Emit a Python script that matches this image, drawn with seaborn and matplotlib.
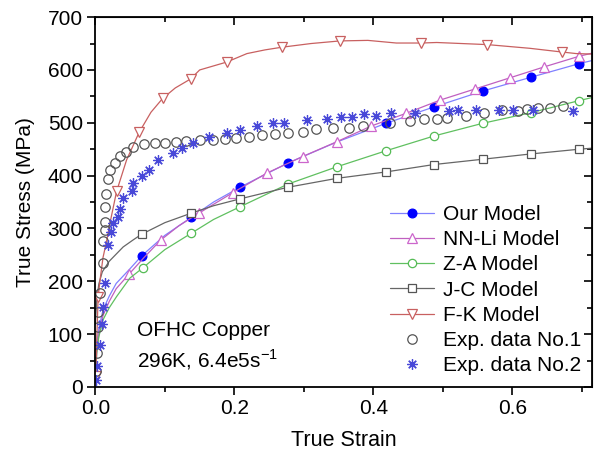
import numpy as np
import pandas as pd
import seaborn as sns
import matplotlib.pyplot as plt
from matplotlib.ticker import MultipleLocator

# model curves (line vertices) and the indices where markers sit
our_x = [0.0, 0.002, 0.005, 0.011, 0.02, 0.03, 0.05, 0.0665, 0.1, 0.138, 0.17, 0.208, 0.277, 0.348, 0.418, 0.487, 0.557, 0.626, 0.696, 0.715]
our_y = [20, 80, 110, 146, 172, 196, 224, 248, 287, 321, 350, 378, 424, 464, 499, 530, 560, 586, 612, 618]
our_mk = [7, 9, 11, 12, 14, 15, 16, 17, 18]

nn_x = [0.0, 0.002, 0.005, 0.011, 0.02, 0.03, 0.0487, 0.07, 0.094, 0.12, 0.149, 0.198, 0.247, 0.298, 0.347, 0.397, 0.447, 0.496, 0.546, 0.596, 0.646, 0.696, 0.715]
nn_y = [10, 65, 100, 135, 162, 186, 214, 245, 278, 305, 329, 368, 405, 436, 464, 494, 518, 543, 564, 585, 606, 626, 632]
nn_mk = [6, 8, 10, 11, 12, 13, 14, 15, 16, 17, 18, 19, 20, 21]

za_x = [0.0, 0.002, 0.005, 0.011, 0.02, 0.0305, 0.0496, 0.0688, 0.1, 0.138, 0.17, 0.208, 0.277, 0.348, 0.418, 0.487, 0.557, 0.626, 0.696, 0.715]
za_y = [15, 65, 95, 127, 150, 171, 206, 226, 260, 291, 317, 341, 384, 417, 447, 475, 499, 519, 542, 548]
za_mk = [7, 9, 11, 12, 13, 14, 15, 16, 17, 18]

jc_x = [0.0, 0.002, 0.005, 0.01, 0.02, 0.04, 0.054, 0.0665, 0.1, 0.138, 0.17, 0.208, 0.277, 0.348, 0.418, 0.487, 0.557, 0.626, 0.696, 0.715]
jc_y = [120, 165, 195, 218, 238, 265, 278, 289, 311, 329, 343, 356, 378, 395, 407, 421, 431, 441, 450, 452]
jc_mk = [7, 9, 11, 12, 13, 14, 15, 16, 17, 18]

fk_x = [0.0007, 0.002, 0.004, 0.0065, 0.011, 0.016, 0.021, 0.0305, 0.045, 0.063, 0.08, 0.0967, 0.115, 0.137, 0.15, 0.189, 0.218, 0.244, 0.268, 0.31, 0.352, 0.392, 0.433, 0.469, 0.491, 0.564, 0.625, 0.671, 0.692, 0.717]
fk_y = [20, 90, 170, 200, 245, 275, 310, 370, 430, 482, 520, 546, 566, 583, 600, 615, 631, 638, 643, 650, 655, 656, 651, 651, 652, 648, 641, 634, 631, 630]
fk_mk = [0, 2, 7, 9, 11, 13, 15, 18, 20, 23, 25, 27]

# experimental data
e1_x = [0.0015, 0.0026, 0.004, 0.004, 0.0065, 0.0104, 0.0104, 0.0137, 0.0137, 0.0137, 0.016, 0.018, 0.0215, 0.028, 0.035, 0.044, 0.0535,
        0.070, 0.0856, 0.100, 0.116, 0.130, 0.151, 0.169, 0.186, 0.203, 0.221, 0.240, 0.258, 0.277, 0.298, 0.318, 0.342, 0.365,
        0.385, 0.424, 0.452, 0.473, 0.491, 0.506, 0.533, 0.559, 0.585, 0.608, 0.621, 0.636, 0.654, 0.672]
e1_y = [30, 65, 113, 142, 177, 234, 276, 297, 313, 340, 366, 393, 410, 424, 437, 445, 455,
        460, 461, 461, 464, 465, 467, 467, 470, 472, 474, 477, 478, 481, 483, 489, 490, 490,
        494, 499, 504, 507, 507, 510, 513, 518, 524, 522, 526, 528, 528, 532]

e2_x = [0.0007, 0.0026, 0.0065, 0.0089, 0.0112, 0.0137, 0.018, 0.023, 0.0256, 0.0328, 0.035, 0.040, 0.052, 0.0545, 0.0665, 0.0774,
        0.090, 0.112, 0.124, 0.141, 0.164, 0.189, 0.208, 0.232, 0.256, 0.272, 0.304, 0.333, 0.353, 0.369, 0.387, 0.404, 0.425,
        0.460, 0.508, 0.522, 0.547, 0.581, 0.601, 0.630, 0.687]
e2_y = [13, 40, 79, 120, 152, 196, 269, 294, 311, 322, 336, 357, 371, 386, 399, 410,
        429, 442, 453, 462, 474, 480, 487, 494, 499, 499, 505, 508, 511, 511, 516, 513, 518,
        519, 523, 525, 525, 525, 524, 524, 522]


def main():
    sns.set_style('ticks')
    plt.rcParams['font.family'] = ['Liberation Sans', 'DejaVu Sans']
    plt.rcParams['mathtext.fontset'] = 'custom'
    plt.rcParams['mathtext.rm'] = 'Liberation Sans'
    plt.rcParams['text.color'] = 'black'
    plt.rcParams['axes.labelcolor'] = 'black'

    fig = plt.figure(figsize=(5.96, 4.51), dpi=100)
    ax = fig.add_axes([0.160, 0.142, 0.834, 0.820])

    models = [
        ('Our Model', our_x, our_y, our_mk, dict(color='#8080ff', marker='o', mfc='#0000ff', mec='#0000ff', ms=6.3)),
        ('NN-Li Model', nn_x, nn_y, nn_mk, dict(color='#c060c0', marker='^', mfc='white', mec='#cc66cc', ms=7)),
        ('Z-A Model', za_x, za_y, za_mk, dict(color='#60c060', marker='o', mfc='white', mec='#55bb55', ms=6)),
        ('J-C Model', jc_x, jc_y, jc_mk, dict(color='#666666', marker='s', mfc='white', mec='#555555', ms=5.3)),
        ('F-K Model', fk_x, fk_y, fk_mk, dict(color='#c86060', marker='v', mfc='white', mec='#c86060', ms=7)),
    ]
    for name, xs, ys, mk, style in models:
        df = pd.DataFrame({'strain': xs, 'stress': ys})
        sns.lineplot(data=df, x='strain', y='stress', ax=ax, estimator=None, sort=False,
                     label=name, lw=0.9, markevery=mk, mew=0.9, **style)

    exp1 = pd.DataFrame({'strain': e1_x, 'stress': e1_y})
    sns.lineplot(data=exp1, x='strain', y='stress', ax=ax, estimator=None, sort=False,
                 label='Exp. data No.1', linestyle='none', marker='o', ms=6.8,
                 mfc='none', mec='#555555', mew=0.9, color='#555555')
    exp2 = pd.DataFrame({'strain': e2_x, 'stress': e2_y})
    sns.lineplot(data=exp2, x='strain', y='stress', ax=ax, estimator=None, sort=False,
                 label='Exp. data No.2', linestyle='none', marker=(8, 2, 0), ms=7.5,
                 mec='#4848d8', mew=0.9, color='#4848d8')

    ax.set_xlim(0, 0.715)
    ax.set_ylim(0, 700)
    ax.xaxis.set_major_locator(MultipleLocator(0.2))
    ax.xaxis.set_minor_locator(MultipleLocator(0.1))
    ax.yaxis.set_major_locator(MultipleLocator(100))
    ax.yaxis.set_minor_locator(MultipleLocator(50))
    ax.tick_params(which='major', direction='out', length=6, width=1.2, labelsize=15, colors='black', pad=3)
    ax.tick_params(which='minor', direction='out', length=3.5, width=1.2, colors='black')
    for s in ax.spines.values():
        s.set_linewidth(1.3)
        s.set_color('black')
        s.set_visible(True)

    # mirrored inward ticks on top and right
    top = ax.secondary_xaxis('top')
    top.xaxis.set_major_locator(MultipleLocator(0.2))
    top.xaxis.set_minor_locator(MultipleLocator(0.1))
    top.tick_params(which='major', direction='in', length=6, width=1.2, labeltop=False, colors='black')
    top.tick_params(which='minor', direction='in', length=3.5, width=1.2, colors='black')
    right = ax.secondary_yaxis('right')
    right.yaxis.set_major_locator(MultipleLocator(100))
    right.yaxis.set_minor_locator(MultipleLocator(50))
    right.tick_params(which='major', direction='in', length=6, width=1.2, labelright=False, colors='black')
    right.tick_params(which='minor', direction='in', length=3.5, width=1.2, colors='black')

    ax.set_xlabel('True Strain', fontsize=15.5, labelpad=8)
    ax.set_ylabel('True Stress (MPa)', fontsize=15, labelpad=9)

    ax.text(0.083, 0.154, 'OFHC Copper', transform=ax.transAxes, fontsize=15, va='center')
    ax.text(0.083, 0.073, '296K, 6.4e5s$^{-1}$', transform=ax.transAxes, fontsize=15, va='center')

    ax.legend(loc='lower right', bbox_to_anchor=(1.0, 0.0), frameon=False, fontsize=15,
              handlelength=2.15, handletextpad=0.4, labelspacing=0.3, borderaxespad=0.25,
              borderpad=0.3)

    fig.savefig('out.png', dpi=100)


if __name__ == '__main__':
    main()
